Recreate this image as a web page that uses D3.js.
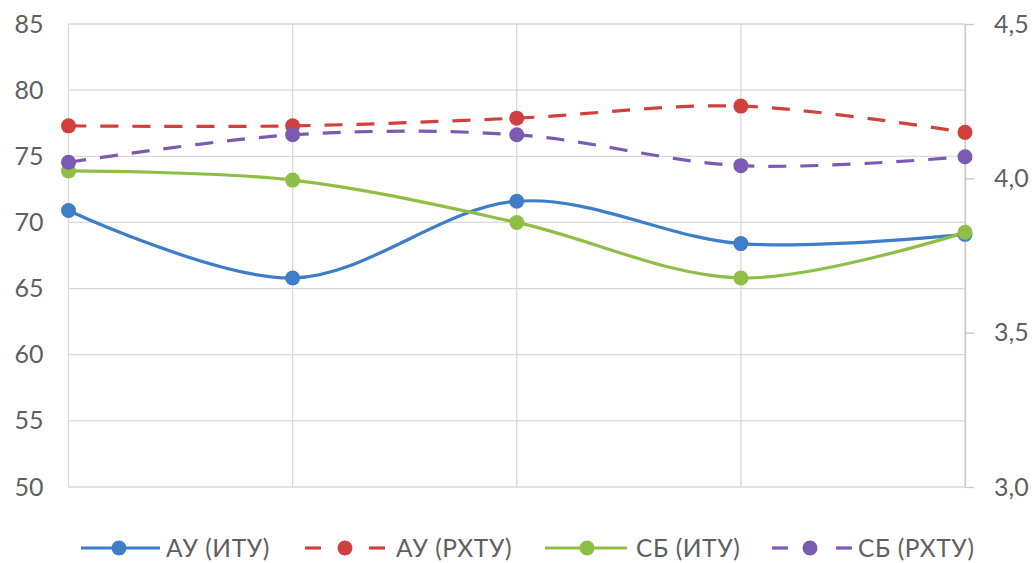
<!DOCTYPE html>
<html>
<head>
<meta charset="utf-8">
<script src="https://cdn.jsdelivr.net/npm/d3@7"></script>
<style>
  html, body { margin: 0; padding: 0; background: #fff; }
  svg { display: block; }
  text { font-family: Lato, "Open Sans", sans-serif; fill: #595959; }
</style>
</head>
<body>
<svg id="chart" width="1032" height="563"></svg>
<script>
// ---- data ----
const categories = ["1", "2", "3", "4", "5"];
const auItu  = [70.9, 65.8, 71.6, 68.4, 69.1];      // left axis
const sbItu  = [73.9, 73.2, 70.0, 65.8, 69.25];     // left axis
const auRhtu = [4.17, 4.17, 4.195, 4.234, 4.149];   // right axis
const sbRhtu = [4.052, 4.141, 4.141, 4.041, 4.070]; // right axis
const leftTicks  = [50, 55, 60, 65, 70, 75, 80, 85];
const rightTicks = [3.0, 3.5, 4.0, 4.5];
const seriesNames = ["АУ (ИТУ)", "АУ (РХТУ)", "СБ (ИТУ)", "СБ (РХТУ)"];

const series = [
  { name: seriesNames[0], values: auItu,  axis: "left",  color: "#3E7DC8", dash: null },
  { name: seriesNames[1], values: auRhtu, axis: "right", color: "#D0403D", dash: "18,14" },
  { name: seriesNames[2], values: sbItu,  axis: "left",  color: "#8FBE47", dash: null },
  { name: seriesNames[3], values: sbRhtu, axis: "right", color: "#7B5AB3", dash: "18,14" }
];

// ---- layout ----
const svg = d3.select("#chart");
const pLeft = 68.5, pRight = 965, pTop = 24, pBottom = 487;

const x = d3.scalePoint().domain(categories).range([pLeft, pRight]).padding(0);
const yL = d3.scaleLinear().domain([50, 85]).range([pBottom, pTop]);
const yR = d3.scaleLinear().domain([3.0, 4.5]).range([pBottom, pTop]);

// horizontal gridlines
svg.append("g").selectAll("line").data(leftTicks).join("line")
  .attr("x1", pLeft).attr("x2", pRight)
  .attr("y1", d => yL(d)).attr("y2", d => yL(d))
  .attr("stroke", "#d9d9d9").attr("stroke-width", 1.3);

// vertical gridlines
svg.append("g").selectAll("line").data(categories).join("line")
  .attr("x1", d => x(d)).attr("x2", d => x(d))
  .attr("y1", pTop).attr("y2", pBottom)
  .attr("stroke", "#d9d9d9").attr("stroke-width", 1.3);

// left axis labels
const axL = d3.axisLeft(yL).tickValues(leftTicks).tickSize(0).tickPadding(25);
const gL = svg.append("g").attr("transform", `translate(${pLeft},0)`).call(axL);
gL.select(".domain").remove();
gL.selectAll("text").attr("font-size", 25).style("fill", "#5f5f5f")
  .style("font-family", "Lato, 'Open Sans', sans-serif");

// right axis
const fmt = d => d.toFixed(1).replace(".", ",");
const axR = d3.axisRight(yR).tickValues(rightTicks).tickSize(9).tickSizeOuter(0).tickPadding(20).tickFormat(fmt);
const gR = svg.append("g").attr("transform", `translate(${pRight},0)`).call(axR);
gR.select(".domain").attr("stroke", "#c8c8c8").attr("stroke-width", 1.3);
gR.selectAll(".tick line").attr("stroke", "#c8c8c8").attr("stroke-width", 1.3);
gR.selectAll("text").attr("font-size", 25).style("fill", "#5f5f5f")
  .style("font-family", "Lato, 'Open Sans', sans-serif");

// lines
const lineFor = s => d3.line()
  .x((d, i) => x(categories[i]))
  .y(d => (s.axis === "left" ? yL(d) : yR(d)))
  .curve(d3.curveCardinal.tension(0));

const drawOrder = [0, 2, 1, 3];
drawOrder.forEach(k => {
  const s = series[k];
  svg.append("path").datum(s.values)
    .attr("d", lineFor(s))
    .attr("fill", "none")
    .attr("stroke", s.color)
    .attr("stroke-width", 3.2)
    .attr("stroke-dasharray", s.dash);
});
drawOrder.forEach(k => {
  const s = series[k];
  svg.append("g").selectAll("circle").data(s.values).join("circle")
    .attr("cx", (d, i) => x(categories[i]))
    .attr("cy", d => (s.axis === "left" ? yL(d) : yR(d)))
    .attr("r", 7.5)
    .attr("fill", s.color);
});

// legend
const legendY = 548;
const legendItems = [
  { s: series[0], x0: 81,  x1: 160, mx: 119, tx: 166 },
  { s: series[1], x0: 305, x1: 385, mx: 345, tx: 396 },
  { s: series[2], x0: 545, x1: 627, mx: 587, tx: 636 },
  { s: series[3], x0: 772, x1: 852, mx: 810, tx: 858 }
];
legendItems.forEach(it => {
  const g = svg.append("g");
  if (it.s.dash) {
    g.append("line").attr("x1", it.x0).attr("x2", it.x0 + 16)
      .attr("y1", legendY).attr("y2", legendY)
      .attr("stroke", it.s.color).attr("stroke-width", 3.2);
    g.append("line").attr("x1", it.x1 - 16).attr("x2", it.x1)
      .attr("y1", legendY).attr("y2", legendY)
      .attr("stroke", it.s.color).attr("stroke-width", 3.2);
  } else {
    g.append("line").attr("x1", it.x0).attr("x2", it.x1)
      .attr("y1", legendY).attr("y2", legendY)
      .attr("stroke", it.s.color).attr("stroke-width", 3.2);
  }
  g.append("circle").attr("cx", it.mx).attr("cy", legendY).attr("r", 7.5).attr("fill", it.s.color);
  g.append("text").attr("x", it.tx).attr("y", legendY).attr("dy", "0.36em")
    .attr("font-size", 24.5)
    .attr("letter-spacing", 0.6)
    .style("font-family", "Lato, 'Open Sans', sans-serif")
    .style("fill", "#5f5f5f")
    .text(it.s.name);
});
</script>
</body>
</html>
